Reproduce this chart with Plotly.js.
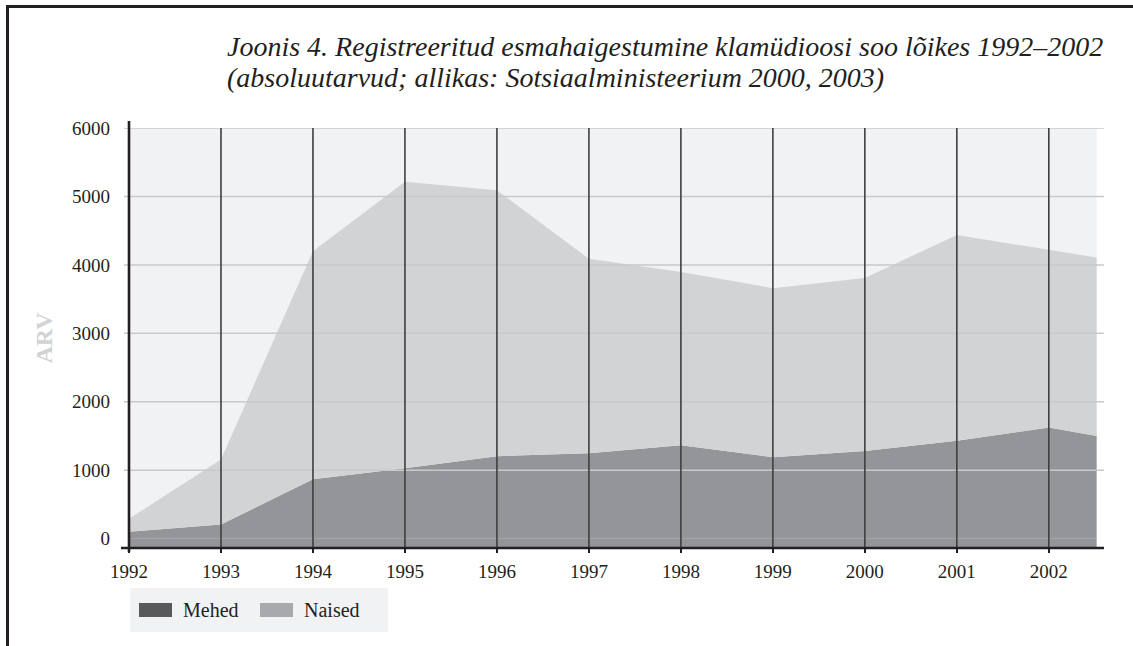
<!DOCTYPE html>
<html>
<head>
<meta charset="utf-8">
<script src="https://cdn.plot.ly/plotly-3.0.1.min.js"></script>
<style>
  html, body { margin: 0; padding: 0; background: #ffffff; }
  #wrap { position: relative; width: 1133px; height: 646px; overflow: hidden; }
  #chart { width: 1133px; height: 646px; }
  #frameTop { position: absolute; left: 6px; top: 5px; width: 1127px; height: 3px; background: #231f20; }
  #frameLeft { position: absolute; left: 6px; top: 5px; width: 3px; height: 641px; background: #231f20; }
</style>
</head>
<body>
<div id="wrap">
  <div id="chart"></div>
  <div id="frameTop"></div>
  <div id="frameLeft"></div>
</div>
<script>
// ---- data ----
const years = [1992, 1993, 1994, 1995, 1996, 1997, 1998, 1999, 2000, 2001, 2002, 2002.52];
const tickYears = [1992, 1993, 1994, 1995, 1996, 1997, 1998, 1999, 2000, 2001, 2002];
const tickYearLabels = ['1992', '1993', '1994', '1995', '1996', '1997', '1998', '1999', '2000', '2001', '2002'];
const mehed = [100, 206, 870, 1030, 1205, 1250, 1365, 1190, 1280, 1430, 1626, 1500];
const naised = [190, 951, 3330, 4185, 3885, 2840, 2530, 2470, 2530, 3005, 2594, 2607];
const yTicks = [0, 1000, 2000, 3000, 4000, 5000, 6000];
const yTickLabels = ['0', '1000', '2000', '3000', '4000', '5000', '6000'];
const seriesNames = ['Mehed', 'Naised'];
const titleLines = ['Joonis 4. Registreeritud esmahaigestumine klamüdioosi soo lõikes 1992–2002',
                    '(absoluutarvud; allikas: Sotsiaalministeerium 2000, 2003)'];
const yTitle = 'ARV';

// ---- styling ----
const fillMehed = '#939598', fillNaised = '#d1d3d4';
const legMehed = '#58595b', legNaised = '#a7a9ac';
const bgCol = '#f1f2f4', hGrid = '#c8c9cb', vGrid = '#3f3f41', ink = '#231f20';
const serif = '"Liberation Serif", "Times New Roman", serif';
const yMin = -136, yMax = 6000;
const xMin = 1992, xMax = 2002.6;

// plot area pixel geometry for paper conversions
const L = 129, R = 1104, T = 128, B = 548;
const px2x = p => (p - L) / (R - L);
const px2y = p => (B - p) / (B - T);

const traces = [
  { x: years, y: mehed, name: seriesNames[0], type: 'scatter', mode: 'none',
    stackgroup: 'g', fillcolor: fillMehed, showlegend: false, hoverinfo: 'x+y+name' },
  { x: years, y: naised, name: seriesNames[1], type: 'scatter', mode: 'none',
    stackgroup: 'g', fillcolor: fillNaised, showlegend: false, hoverinfo: 'x+y+name' }
];

const shapes = [];
// plot background (only as far as the data reaches)
shapes.push({ type: 'rect', layer: 'below', xref: 'x', yref: 'paper',
  x0: years[0], x1: years[years.length - 1], y0: 0, y1: 1, fillcolor: bgCol, line: { width: 0 } });
// area continues down to the axis line below zero
shapes.push({ type: 'rect', layer: 'below', xref: 'x', yref: 'y',
  x0: years[0], x1: years[years.length - 1], y0: yMin, y1: 0, fillcolor: fillMehed, line: { width: 0 } });
// horizontal gridlines (drawn over the areas)
yTicks.filter(v => v > 0).forEach(v => {
  shapes.push({ type: 'line', layer: 'above', xref: 'paper', yref: 'y',
    x0: px2x(124), x1: 1, y0: v, y1: v, line: { color: hGrid, width: 1.5 } });
});
// vertical gridlines (drawn over the areas)
tickYears.forEach(v => {
  shapes.push({ type: 'line', layer: 'above', xref: 'x', yref: 'paper',
    x0: v, x1: v, y0: 0, y1: 1, line: { color: vGrid, width: 1.6 } });
});
// axis lines
shapes.push({ type: 'line', layer: 'above', xref: 'paper', yref: 'paper',
  x0: px2x(121), x1: 1, y0: 0, y1: 0, line: { color: ink, width: 2.6 } });
shapes.push({ type: 'line', layer: 'above', xref: 'paper', yref: 'paper',
  x0: 0, x1: 0, y0: px2y(552), y1: px2y(121), line: { color: ink, width: 2.6 } });

// legend (drawn manually: swatches use different tones than the areas)
shapes.push({ type: 'rect', xref: 'paper', yref: 'paper',
  x0: px2x(130), x1: px2x(388), y0: px2y(588), y1: px2y(632), fillcolor: bgCol, line: { width: 0 } });
shapes.push({ type: 'rect', xref: 'paper', yref: 'paper',
  x0: px2x(139), x1: px2x(172), y0: px2y(603), y1: px2y(617), fillcolor: legMehed, line: { width: 0 } });
shapes.push({ type: 'rect', xref: 'paper', yref: 'paper',
  x0: px2x(260), x1: px2x(293), y0: px2y(603), y1: px2y(617), fillcolor: legNaised, line: { width: 0 } });

const annotations = [
  { xref: 'paper', yref: 'paper', x: px2x(181), y: px2y(610), xanchor: 'left', yanchor: 'middle',
    text: seriesNames[0], showarrow: false, font: { family: serif, size: 20, color: ink } },
  { xref: 'paper', yref: 'paper', x: px2x(302), y: px2y(610), xanchor: 'left', yanchor: 'middle',
    text: seriesNames[1], showarrow: false, font: { family: serif, size: 20, color: ink } },
  // second line of the figure caption
  { xref: 'paper', yref: 'paper', x: px2x(226), y: px2y(77), xanchor: 'left', yanchor: 'middle',
    text: titleLines[1], showarrow: false, borderpad: 0,
    font: { family: serif, size: 28, color: ink, style: 'italic' } }
];

const layout = {
  width: 1133, height: 646,
  margin: { l: L, r: 1133 - R, t: T, b: 646 - B, pad: 0 },
  paper_bgcolor: '#ffffff', plot_bgcolor: '#ffffff',
  showlegend: false,
  title: {
    text: titleLines[0],
    xref: 'container', yref: 'container',
    x: 227 / 1133, xanchor: 'left',
    y: 1 - 46 / 646, yanchor: 'middle',
    font: { family: serif, size: 28, color: ink, style: 'italic' }
  },
  xaxis: {
    type: 'linear', range: [xMin, xMax],
    tickvals: tickYears, ticktext: tickYearLabels,
    ticks: 'outside', ticklen: 4, tickwidth: 2, tickcolor: ink,
    showgrid: false, zeroline: false, showline: false,
    ticklabelstandoff: 2,
    tickfont: { family: serif, size: 19, color: ink },
    fixedrange: true
  },
  yaxis: {
    range: [yMin, yMax],
    tickvals: yTicks, ticktext: yTickLabels,
    ticks: '', showgrid: false, zeroline: false, showline: false,
    ticklabelstandoff: 18,
    tickfont: { family: serif, size: 19, color: ink },
    title: { text: yTitle, standoff: 12,
      font: { family: serif, size: 24, color: '#d1d3d4', weight: 'bold' } },
    fixedrange: true
  },
  shapes: shapes,
  annotations: annotations
};

Plotly.newPlot('chart', traces, layout, { displayModeBar: false, staticPlot: true });
</script>
</body>
</html>
